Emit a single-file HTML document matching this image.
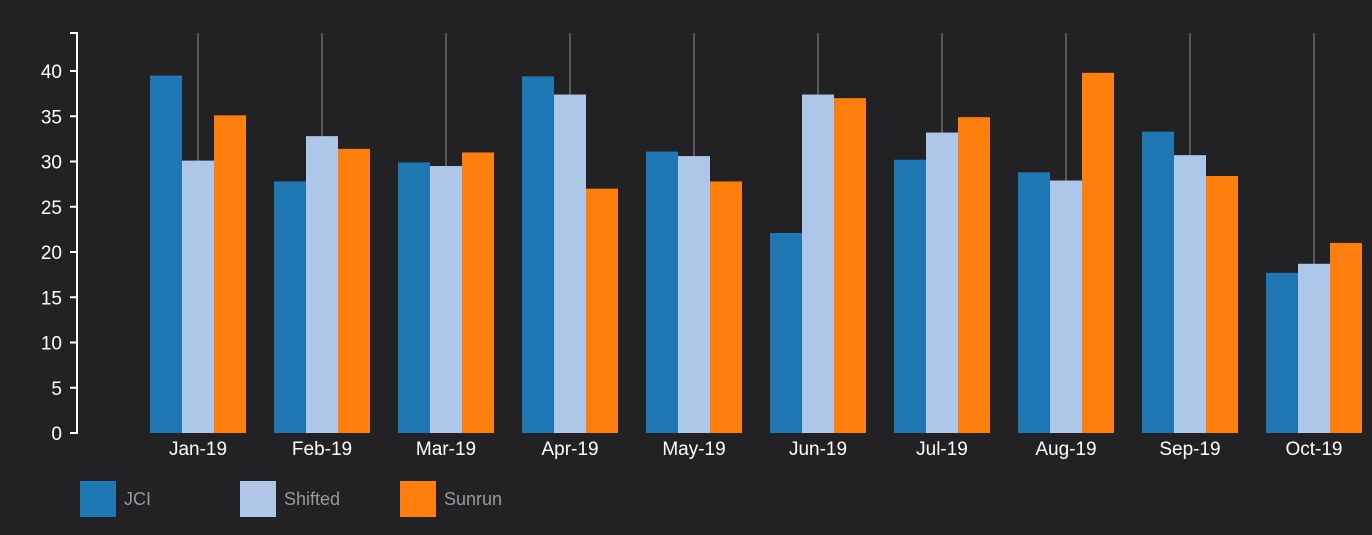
<!DOCTYPE html>
<html><head><meta charset="utf-8"><style>
html,body{margin:0;padding:0;background:#222124;}
svg{display:block;font-family:"Liberation Sans",sans-serif;}
</style></head><body>
<svg id="chart" width="1372" height="535"></svg>
<script>
const categories=["Jan-19","Feb-19","Mar-19","Apr-19","May-19","Jun-19","Jul-19","Aug-19","Sep-19","Oct-19"];
const seriesNames=["JCI","Shifted","Sunrun"];
const seriesA=[39.5,27.8,29.9,39.4,31.1,22.1,30.2,28.8,33.3,17.7];
const seriesB=[30.1,32.8,29.5,37.4,30.6,37.4,33.2,27.9,30.7,18.7];
const seriesC=[35.1,31.4,31.0,27.0,27.8,37.0,34.9,39.8,28.4,21.0];
const yTicks=[0,5,10,15,20,25,30,35,40];
const colors=["#1f77b4","#aec7e8","#ff7f0e"];
const NS="http://www.w3.org/2000/svg";
const svg=document.getElementById("chart");
const y0=433,yTop=33,yMax=44.2;
const yScale=v=>y0-v*(y0-yTop)/yMax;
const xCenter=i=>198+i*124;
const bw=32;
function mk(t,a){const e=document.createElementNS(NS,t);for(const k in a)e.setAttribute(k,a[k]);svg.appendChild(e);return e;}
categories.forEach((c,i)=>{
 const g=mk("line",{x1:xCenter(i),x2:xCenter(i),y1:yTop,y2:y0,stroke:"#6a6a6a","stroke-width":1.5});
 
 
});
[seriesA,seriesB,seriesC].forEach((s,si)=>{
 s.forEach((v,i)=>{
  const r=mk("rect",{x:xCenter(i)-48+si*bw,y:yScale(v),width:bw,height:y0-yScale(v),fill:colors[si]});
  
  
 });
});
const ax=mk("path",{d:"M70,"+yTop+"H77V"+y0+"H70",stroke:"#fff","stroke-width":2,fill:"none"});


yTicks.forEach(t=>{
 const l=mk("line",{x1:70,x2:77,y1:yScale(t),y2:yScale(t),stroke:"#fff","stroke-width":2});
 
 
 const tx=mk("text",{x:62,y:yScale(t)+7,"text-anchor":"end",fill:"#fff","font-size":19});
 tx.textContent=t;
 
 
});
categories.forEach((c,i)=>{
 const tx=mk("text",{x:xCenter(i),y:455,"text-anchor":"middle",fill:"#fff","font-size":19});
 tx.textContent=c;
 
 
});
seriesNames.forEach((n,i)=>{
 const r=mk("rect",{x:80+i*160,y:481,width:36,height:36,fill:colors[i]});
 
 
 const tx=mk("text",{x:124+i*160,y:505,fill:"#999","font-size":18});
 tx.textContent=n;
 
 
});
</script>
</body></html>
